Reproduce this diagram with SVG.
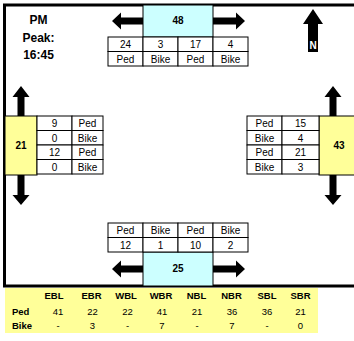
<svg xmlns="http://www.w3.org/2000/svg" width="354" height="341" viewBox="0 0 354 341">
<style>
text{font-family:"Liberation Sans",Arial,sans-serif;fill:#000}
.t{font-size:10px;text-anchor:middle}
.b{font-weight:bold}
.cell{fill:#fff;stroke:#000;stroke-width:1}
.cy{fill:#CCFFFF;stroke:#000;stroke-width:1}
.ye{fill:#FFFF99;stroke:#000;stroke-width:1}
.arr{fill:#000}
.s{font-size:9.5px;text-anchor:middle}
</style>
<rect width="354" height="341" fill="#fff"/>
<rect x="4.5" y="5" width="352" height="281" fill="none" stroke="#000" stroke-width="3"/>
<g id="title">
<text class="b" x="38.5" y="24" font-size="12" text-anchor="middle">PM</text>
<text class="b" x="38.5" y="42" font-size="12" text-anchor="middle">Peak:</text>
<text class="b" x="38.5" y="59" font-size="12" text-anchor="middle">16:45</text>
</g>
<g id="north">
<path class="arr" d="M313,9 L323,24 L318,24 L318,52 L308,52 L308,24 L303,24 Z"/>
<text x="313" y="49" font-size="10" font-weight="bold" text-anchor="middle" style="fill:#fff">N</text>
</g>
<g id="connectors">
<path class="arr" d="M112,21 L121,12.5 L121,17.5 L143,17.5 L143,24.5 L121,24.5 L121,29.5 Z"/>
<path class="arr" d="M245,21 L236,12.5 L236,17.5 L213,17.5 L213,24.5 L236,24.5 L236,29.5 Z"/>
<path class="arr" d="M112,269 L121,260.5 L121,265.5 L143,265.5 L143,272.5 L121,272.5 L121,277.5 Z"/>
<path class="arr" d="M245,269 L236,260.5 L236,265.5 L213,265.5 L213,272.5 L236,272.5 L236,277.5 Z"/>
<path class="arr" d="M21,86 L29.5,97 L24.5,97 L24.5,116 L17.5,116 L17.5,97 L12.5,97 Z"/>
<path class="arr" d="M21,205 L29.5,195 L24.5,195 L24.5,175 L17.5,175 L17.5,195 L12.5,195 Z"/>
<path class="arr" d="M333,86 L341.5,97 L336.5,97 L336.5,116 L329.5,116 L329.5,97 L324.5,97 Z"/>
<path class="arr" d="M333,205 L341.5,195 L336.5,195 L336.5,175 L329.5,175 L329.5,195 L324.5,195 Z"/>
</g>
<g id="node-north">
<rect class="cy" x="143" y="5" width="70" height="32"/>
<text class="t b" x="178" y="24">48</text>
<rect class="cell" x="108" y="37" width="35" height="14.5"/>
<rect class="cell" x="143" y="37" width="35" height="14.5"/>
<rect class="cell" x="178" y="37" width="35" height="14.5"/>
<rect class="cell" x="213" y="37" width="35" height="14.5"/>
<rect class="cell" x="108" y="51.5" width="35" height="14.5"/>
<rect class="cell" x="143" y="51.5" width="35" height="14.5"/>
<rect class="cell" x="178" y="51.5" width="35" height="14.5"/>
<rect class="cell" x="213" y="51.5" width="35" height="14.5"/>
<text class="t" x="125.5" y="48">24</text>
<text class="t" x="160.5" y="48">3</text>
<text class="t" x="195.5" y="48">17</text>
<text class="t" x="230.5" y="48">4</text>
<text class="t" x="125.5" y="62.5">Ped</text>
<text class="t" x="160.5" y="62.5">Bike</text>
<text class="t" x="195.5" y="62.5">Ped</text>
<text class="t" x="230.5" y="62.5">Bike</text>
</g>
<g id="node-south">
<rect class="cy" x="143" y="252" width="70" height="34"/>
<text class="t b" x="178" y="272">25</text>
<rect class="cell" x="108" y="223" width="35" height="14.5"/>
<rect class="cell" x="143" y="223" width="35" height="14.5"/>
<rect class="cell" x="178" y="223" width="35" height="14.5"/>
<rect class="cell" x="213" y="223" width="35" height="14.5"/>
<rect class="cell" x="108" y="237.5" width="35" height="14.5"/>
<rect class="cell" x="143" y="237.5" width="35" height="14.5"/>
<rect class="cell" x="178" y="237.5" width="35" height="14.5"/>
<rect class="cell" x="213" y="237.5" width="35" height="14.5"/>
<text class="t" x="125.5" y="234">Ped</text>
<text class="t" x="160.5" y="234">Bike</text>
<text class="t" x="195.5" y="234">Ped</text>
<text class="t" x="230.5" y="234">Bike</text>
<text class="t" x="125.5" y="248.5">12</text>
<text class="t" x="160.5" y="248.5">1</text>
<text class="t" x="195.5" y="248.5">10</text>
<text class="t" x="230.5" y="248.5">2</text>
</g>
<g id="node-west">
<rect class="ye" x="5" y="116" width="32" height="59"/>
<text class="t b" x="21" y="149">21</text>
<rect class="cell" x="37" y="116" width="35" height="14.5"/>
<rect class="cell" x="72" y="116" width="31" height="14.5"/>
<rect class="cell" x="37" y="130.5" width="35" height="14.5"/>
<rect class="cell" x="72" y="130.5" width="31" height="14.5"/>
<rect class="cell" x="37" y="145" width="35" height="14.5"/>
<rect class="cell" x="72" y="145" width="31" height="14.5"/>
<rect class="cell" x="37" y="159.5" width="35" height="14.5"/>
<rect class="cell" x="72" y="159.5" width="31" height="14.5"/>
<text class="t" x="54.5" y="127">9</text>
<text class="t" x="87.5" y="127">Ped</text>
<text class="t" x="54.5" y="141.5">0</text>
<text class="t" x="87.5" y="141.5">Bike</text>
<text class="t" x="54.5" y="156">12</text>
<text class="t" x="87.5" y="156">Ped</text>
<text class="t" x="54.5" y="170.5">0</text>
<text class="t" x="87.5" y="170.5">Bike</text>
</g>
<g id="node-east">
<rect class="ye" x="319" y="116" width="37" height="59"/>
<text class="t b" x="339" y="149">43</text>
<rect class="cell" x="247" y="116" width="35" height="14.5"/>
<rect class="cell" x="282" y="116" width="37" height="14.5"/>
<rect class="cell" x="247" y="130.5" width="35" height="14.5"/>
<rect class="cell" x="282" y="130.5" width="37" height="14.5"/>
<rect class="cell" x="247" y="145" width="35" height="14.5"/>
<rect class="cell" x="282" y="145" width="37" height="14.5"/>
<rect class="cell" x="247" y="159.5" width="35" height="14.5"/>
<rect class="cell" x="282" y="159.5" width="37" height="14.5"/>
<text class="t" x="264.5" y="127">Ped</text>
<text class="t" x="300.5" y="127">15</text>
<text class="t" x="264.5" y="141.5">Bike</text>
<text class="t" x="300.5" y="141.5">4</text>
<text class="t" x="264.5" y="156">Ped</text>
<text class="t" x="300.5" y="156">21</text>
<text class="t" x="264.5" y="170.5">Bike</text>
<text class="t" x="300.5" y="170.5">3</text>
</g>
<g id="summary">
<rect x="5" y="288" width="313" height="45" fill="#FFFF99"/>
<g class="s b">
<text x="54" y="298.5">EBL</text>
<text x="91.5" y="298.5">EBR</text>
<text x="126" y="298.5">WBL</text>
<text x="161" y="298.5">WBR</text>
<text x="196.5" y="298.5">NBL</text>
<text x="231.5" y="298.5">NBR</text>
<text x="267" y="298.5">SBL</text>
<text x="300.5" y="298.5">SBR</text>
</g>
<text class="b" x="12" y="314.5" font-size="9.5">Ped</text>
<text class="b" x="12" y="328.5" font-size="9.5">Bike</text>
<g class="s">
<text x="58" y="314.5">41</text>
<text x="92.5" y="314.5">22</text>
<text x="127.5" y="314.5">22</text>
<text x="162" y="314.5">41</text>
<text x="197" y="314.5">21</text>
<text x="232" y="314.5">36</text>
<text x="267" y="314.5">36</text>
<text x="300.5" y="314.5">21</text>
<text x="58" y="328.5">-</text>
<text x="92.5" y="328.5">3</text>
<text x="127.5" y="328.5">-</text>
<text x="162" y="328.5">7</text>
<text x="197" y="328.5">-</text>
<text x="232" y="328.5">7</text>
<text x="267" y="328.5">-</text>
<text x="300.5" y="328.5">0</text>
</g>
</g>
</svg>
